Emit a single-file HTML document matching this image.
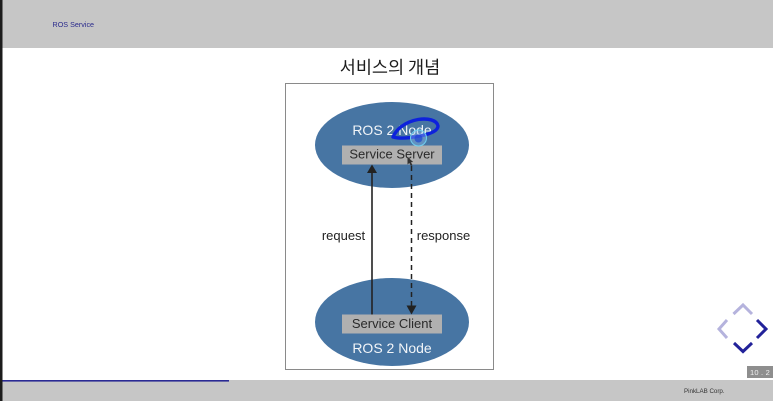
<!DOCTYPE html>
<html>
<head>
<meta charset="utf-8">
<style>
html,body{margin:0;padding:0;background:#fff;}
svg{display:block;}
text{font-family:"Liberation Sans","Noto Sans CJK KR",sans-serif;}
</style>
</head>
<body>
<svg width="773" height="401" viewBox="0 0 773 401" xmlns="http://www.w3.org/2000/svg">
<defs><filter id="b" x="-5%" y="-5%" width="110%" height="110%"><feGaussianBlur stdDeviation="0.35"/></filter></defs>
<rect width="773" height="401" fill="#ffffff"/>
<g filter="url(#b)">
<rect x="0" y="0" width="773" height="48" fill="#c6c6c6"/>
<rect x="0" y="380" width="773" height="21" fill="#c6c6c6"/>
<rect x="2" y="380" width="227" height="1.6" fill="#2c2a94"/>
<rect x="0" y="0" width="2.5" height="401" fill="#1c1c1c"/>
<text x="52.500" y="27" font-size="7.2" fill="#2a2a8c">ROS Service</text>
<text x="390" y="73.500" font-size="17.500" text-anchor="middle" fill="#1a1a1a" style="font-family:'Noto Sans CJK KR','NanumGothic',sans-serif">서비스의 개념</text>
<rect x="285.500" y="83.500" width="208" height="286" fill="#fff" stroke="#8a8a8a" stroke-width="1"/>
<ellipse cx="392" cy="145" rx="77" ry="43" fill="#4674a3"/>
<ellipse cx="392" cy="322" rx="77" ry="44" fill="#4674a3"/>
<rect x="342" y="145.500" width="100" height="19" fill="#b0b0b0"/>
<rect x="342" y="314.500" width="100" height="19" fill="#b0b0b0"/>
<text x="392" y="135" font-size="14" text-anchor="middle" fill="#f2f5f8">ROS 2 Node</text>
<text x="392" y="158.500" font-size="13" text-anchor="middle" fill="#2a2a2a">Service Server</text>
<text x="392" y="328" font-size="13" text-anchor="middle" fill="#2a2a2a">Service Client</text>
<text x="392" y="353" font-size="14" text-anchor="middle" fill="#f2f5f8">ROS 2 Node</text>
<line x1="372" y1="172" x2="372" y2="314.500" stroke="#222" stroke-width="1.600"/>
<polygon points="372,164.500 367,173 377,173" fill="#222"/>
<line x1="411.500" y1="166" x2="411.500" y2="306" stroke="#222" stroke-width="1.500" stroke-dasharray="5,4"/>
<polygon points="411.500,314.500 406.500,305.500 416.500,305.500" fill="#222"/>
<polygon points="407.500,157 407.500,164.500 409.300,163 411,166 412.500,165.300 411,162.300 413.200,162" fill="#333"/>
<text x="343.500" y="240" font-size="13" text-anchor="middle" fill="#222">request</text>
<text x="443.500" y="240" font-size="13" text-anchor="middle" fill="#222">response</text>
<path d="M393 137 C396 130 404 122 418 119.500 C428 118 437 120 438 126 C438 131 430 134 420 136 C410 138 400 139 393 137" fill="none" stroke="#1020dc" stroke-width="3.400" stroke-linecap="round"/>
<circle cx="418.500" cy="138" r="8" fill="#8fc0ea" fill-opacity="0.4" stroke="#6fd0f0" stroke-width="1"/>
<circle cx="418.500" cy="138.500" r="4" fill="#1f45d0" fill-opacity="0.7"/>
<polyline points="733.500,314 743,305 752,314" fill="none" stroke="#b5b3dd" stroke-width="3"/>
<polyline points="727,320 719,329 727,338" fill="none" stroke="#b5b3dd" stroke-width="3"/>
<polyline points="757,320 766,329 757,338" fill="none" stroke="#24229a" stroke-width="3"/>
<polyline points="734,343 743,351.500 752,343" fill="none" stroke="#24229a" stroke-width="3"/>
<rect x="747" y="366" width="26" height="12" fill="#8e8e8e"/>
<text x="760" y="375" font-size="7.500" letter-spacing="0.200" text-anchor="middle" fill="#f0f0f0" xml:space="preserve">10 . 2</text>
<text x="684" y="393" font-size="6.200" fill="#333">PinkLAB Corp.</text>
</g>
</svg>
</body>
</html>
